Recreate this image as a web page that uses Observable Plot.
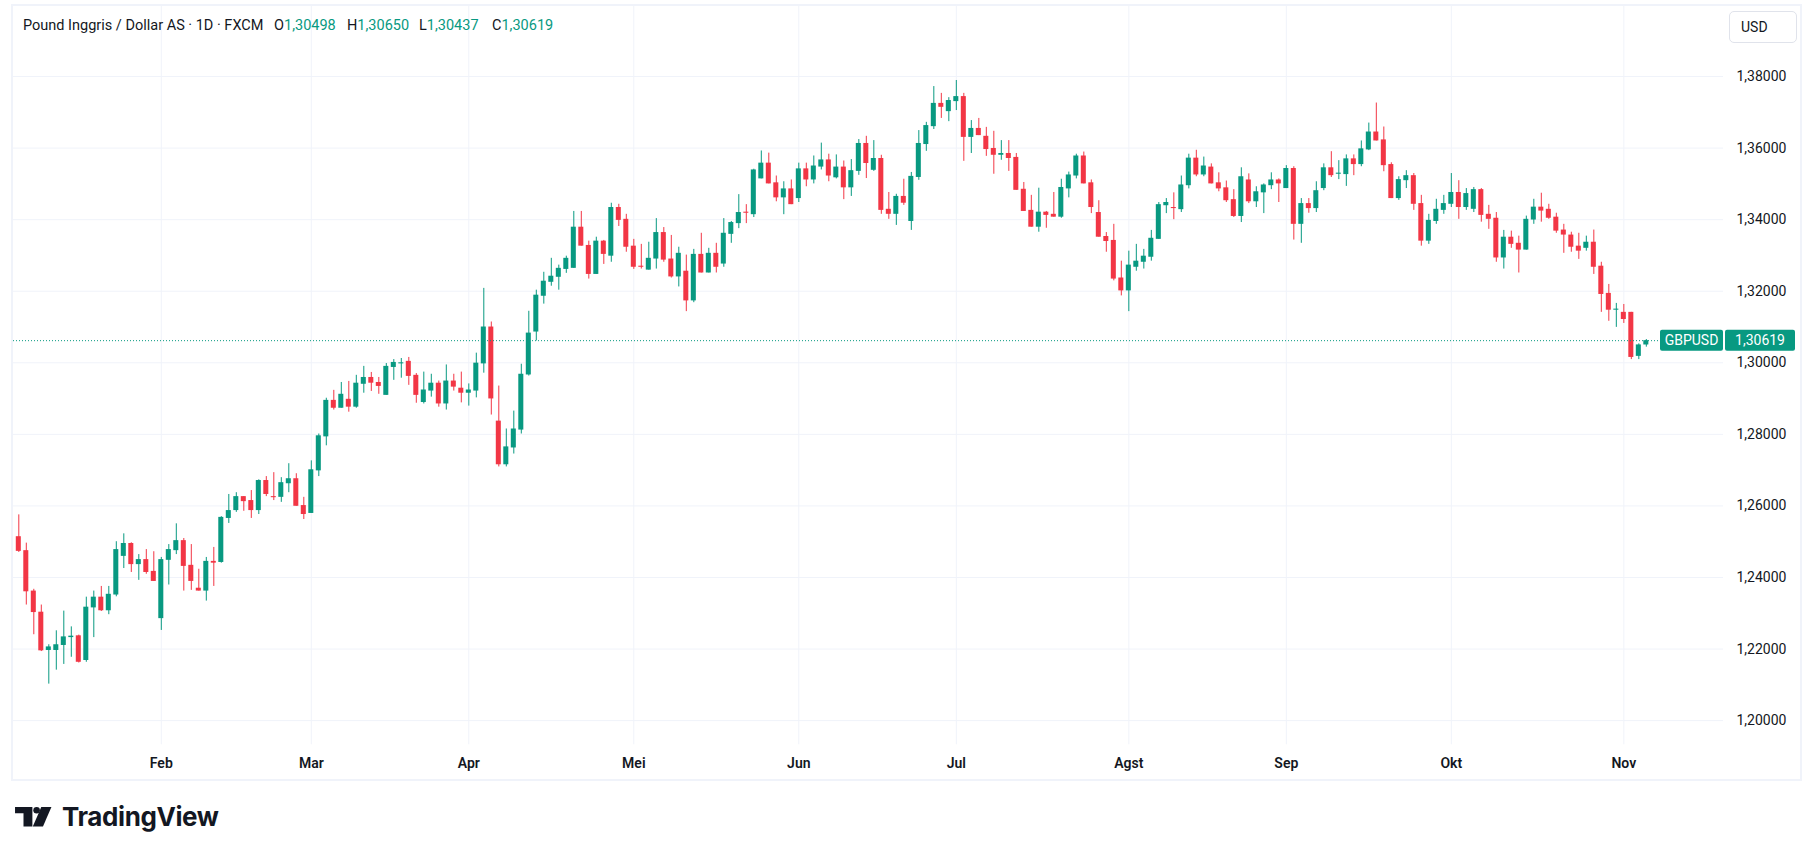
<!DOCTYPE html>
<html>
<head>
<meta charset="utf-8">
<script src="https://cdn.jsdelivr.net/npm/d3@7"></script>
<script src="https://cdn.jsdelivr.net/npm/@observablehq/plot@0.6"></script>
<style>
  html, body { margin: 0; padding: 0; background: #ffffff; }
  body { width: 1813px; height: 854px; position: relative; overflow: hidden; font-family: Roboto, "Noto Sans", sans-serif; color: #131722; }
  #frame { position: absolute; left: 11px; top: 4px; width: 1791px; height: 777px; box-sizing: border-box; border: 2px solid #f0f3fa; }
  #chart { position: absolute; left: 13px; top: 6px; }
  .hdr { position: absolute; top: 16px; font-size: 14.5px; line-height: 20px; white-space: nowrap; color: #131722; }
  .hdr .v { color: #089981; }
  #usd { position: absolute; left: 1729px; top: 11px; width: 68px; height: 32px; box-sizing: border-box; border: 1px solid #e0e3eb; border-radius: 5px; font-size: 14px; line-height: 30px; padding-left: 11px; color: #131722; }
  #logo { position: absolute; left: 15px; top: 804px; }
  #logotext { position: absolute; left: 62px; top: 799px; font-family: Inter, Roboto, sans-serif; font-weight: 700; font-size: 26px; line-height: 36px; letter-spacing: -0.4px; color: #131722; }
</style>
</head>
<body>
<div id="frame"></div>
<div id="chart"></div>
<div class="hdr" style="left:23px">Pound Inggris / Dollar AS · 1D · FXCM</div>
<div class="hdr" id="hO" style="left:274px"></div>
<div class="hdr" id="hH" style="left:347px"></div>
<div class="hdr" id="hL" style="left:419px"></div>
<div class="hdr" id="hC" style="left:492px"></div>
<div id="usd">USD</div>
<svg id="logo" width="39" height="25.4" viewBox="0 0 46 30">
  <path d="M0 3.5 H20.5 V26.5 H10 V11 H0 Z" fill="#131722"/>
  <circle cx="25.5" cy="7.3" r="3.9" fill="#131722"/>
  <path d="M31 3.5 H43 L33 26.5 H21 Z" fill="#131722"/>
</svg>
<div id="logotext">TradingView</div>
<script>
// ---- Data (GBPUSD daily candles, 7 Jan 2025 – 6 Nov 2025) ----
const open = [
1.2514,1.2475,1.2362,1.2303,1.2196,1.2196,1.2210,1.2232,1.2237,1.2168,
1.2315,1.2345,1.2307,1.2351,1.2459,1.2495,1.2436,1.2450,1.2417,1.2285,
1.2448,1.2475,1.2503,1.2434,1.2370,1.2362,1.2445,1.2442,1.2565,1.2587,
1.2626,1.2615,1.2587,1.2671,1.2626,1.2624,1.2662,1.2676,1.2601,1.2579,
1.2698,1.2793,1.2895,1.2873,1.2898,1.2876,1.2940,1.2959,1.2945,1.2909,
1.2987,1.2997,1.3004,1.2965,1.2889,1.2921,1.2943,1.2885,1.2949,1.2929,
1.2915,1.2921,1.2997,1.3100,1.2837,1.2715,1.2762,1.2812,1.2966,1.3086,
1.3186,1.3225,1.3239,1.3261,1.3264,1.3379,1.3328,1.3247,1.3340,1.3298,
1.3434,1.3401,1.3326,1.3270,1.3259,1.3290,1.3364,1.3290,1.3240,1.3256,
1.3173,1.3303,1.3251,1.3306,1.3276,1.3359,1.3389,1.3421,1.3414,1.3514,
1.3558,1.3503,1.3461,1.3486,1.3459,1.3542,1.3511,1.3547,1.3567,1.3517,
1.3547,1.3489,1.3535,1.3613,1.3538,1.3571,1.3429,1.3415,1.3465,1.3395,
1.3518,1.3610,1.3660,1.3725,1.3702,1.3730,1.3744,1.3630,1.3655,1.3633,
1.3599,1.3580,1.3585,1.3574,1.3485,1.3426,1.3379,1.3421,1.3415,1.3407,
1.3486,1.3522,1.3578,1.3503,1.3420,1.3353,1.3342,1.3237,1.3201,1.3267,
1.3281,1.3295,1.3345,1.3439,1.3434,1.3428,1.3495,1.3572,1.3525,1.3547,
1.3503,1.3489,1.3456,1.3409,1.3511,1.3450,1.3475,1.3495,1.3511,1.3487,
1.3543,1.3387,1.3445,1.3431,1.3487,1.3545,1.3527,1.3526,1.3570,1.3554,
1.3595,1.3645,1.3623,1.3554,1.3459,1.3509,1.3523,1.3445,1.3340,1.3395,
1.3426,1.3443,1.3476,1.3434,1.3429,1.3484,1.3415,1.3404,1.3293,1.3351,
1.3334,1.3315,1.3399,1.3435,1.3429,1.3407,1.3371,1.3357,1.3326,1.3320,
1.3337,1.3270,1.3194,1.3147,1.3141,1.3141,1.3018,1.30498];
const high = [
1.2575,1.2496,1.2367,1.2323,1.2212,1.2251,1.2306,1.2262,1.2239,1.2345,
1.2362,1.2375,1.2375,1.2500,1.2522,1.2497,1.2464,1.2478,1.2472,1.2456,
1.2492,1.2550,1.2509,1.2492,1.2423,1.2456,1.2484,1.2570,1.2632,1.2637,
1.2626,1.2643,1.2673,1.2682,1.2693,1.2679,1.2718,1.2690,1.2624,1.2726,
1.2801,1.2901,1.2923,1.2945,1.2948,1.2965,1.2990,1.2973,1.2959,1.2998,
1.3009,1.3012,1.3015,1.2970,1.2974,1.2968,1.2949,1.2994,1.2968,1.2974,
1.2941,1.3027,1.3208,1.3114,1.2935,1.2815,1.2865,1.2996,1.3144,1.3203,
1.3253,1.3292,1.3273,1.3298,1.3423,1.3423,1.3340,1.3351,1.3342,1.3446,
1.3443,1.3415,1.3345,1.3331,1.3337,1.3403,1.3378,1.3356,1.3323,1.3301,
1.3317,1.3362,1.3320,1.3334,1.3403,1.3395,1.3470,1.3442,1.3541,1.3592,
1.3586,1.3522,1.3506,1.3511,1.3558,1.3558,1.3578,1.3614,1.3583,1.3581,
1.3564,1.3568,1.3624,1.3633,1.3621,1.3580,1.3476,1.3471,1.3513,1.3532,
1.3649,1.3672,1.3772,1.3753,1.3741,1.3789,1.3753,1.3677,1.3683,1.3658,
1.3647,1.3621,1.3621,1.3585,1.3504,1.3468,1.3488,1.3423,1.3476,1.3513,
1.3533,1.3583,1.3589,1.3511,1.3453,1.3364,1.3387,1.3284,1.3312,1.3331,
1.3317,1.3370,1.3448,1.3459,1.3475,1.3522,1.3583,1.3594,1.3575,1.3556,
1.3531,1.3508,1.3484,1.3545,1.3528,1.3492,1.3500,1.3531,1.3514,1.3551,
1.3548,1.3459,1.3459,1.3506,1.3556,1.3590,1.3565,1.3581,1.3581,1.3620,
1.3670,1.3726,1.3659,1.3559,1.3520,1.3537,1.3529,1.3468,1.3415,1.3457,
1.3468,1.3529,1.3509,1.3487,1.3490,1.3487,1.3440,1.3420,1.3370,1.3368,
1.3354,1.3410,1.3457,1.3474,1.3443,1.3418,1.3387,1.3365,1.3362,1.3354,
1.3371,1.3281,1.3219,1.3166,1.3163,1.3141,1.3053,1.30650];
const low = [
1.2470,1.2323,1.2240,1.2193,1.2102,1.2141,1.2157,1.2177,1.2161,1.2163,
1.2232,1.2305,1.2296,1.2346,1.2425,1.2414,1.2392,1.2409,1.2389,1.2252,
1.2379,1.2464,1.2362,1.2364,1.2362,1.2334,1.2375,1.2440,1.2551,1.2582,
1.2585,1.2565,1.2576,1.2626,1.2615,1.2610,1.2637,1.2599,1.2562,1.2579,
1.2682,1.2768,1.2868,1.2873,1.2862,1.2873,1.2915,1.2920,1.2912,1.2909,
1.2951,1.2957,1.2937,1.2887,1.2885,1.2904,1.2876,1.2868,1.2921,1.2888,
1.2879,1.2902,1.2971,1.2854,1.2709,1.2709,1.2745,1.2801,1.2963,1.3061,
1.3164,1.3214,1.3203,1.3250,1.3264,1.3326,1.3234,1.3247,1.3275,1.3281,
1.3381,1.3309,1.3261,1.3262,1.3259,1.3262,1.3281,1.3237,1.3212,1.3143,
1.3168,1.3251,1.3251,1.3251,1.3267,1.3334,1.3375,1.3389,1.3406,1.3514,
1.3500,1.3450,1.3414,1.3442,1.3448,1.3492,1.3500,1.3539,1.3506,1.3514,
1.3456,1.3465,1.3524,1.3515,1.3535,1.3415,1.3401,1.3384,1.3440,1.3370,
1.3510,1.3591,1.3652,1.3683,1.3674,1.3705,1.3563,1.3585,1.3635,1.3577,
1.3527,1.3566,1.3535,1.3482,1.3423,1.3379,1.3365,1.3376,1.3407,1.3404,
1.3461,1.3514,1.3500,1.3417,1.3351,1.3309,1.3229,1.3187,1.3143,1.3256,
1.3262,1.3284,1.3345,1.3417,1.3400,1.3420,1.3486,1.3520,1.3520,1.3500,
1.3478,1.3448,1.3406,1.3392,1.3445,1.3434,1.3417,1.3484,1.3448,1.3487,
1.3343,1.3334,1.3418,1.3420,1.3481,1.3518,1.3512,1.3493,1.3523,1.3548,
1.3593,1.3620,1.3534,1.3459,1.3454,1.3487,1.3426,1.3326,1.3331,1.3387,
1.3415,1.3434,1.3401,1.3426,1.3420,1.3393,1.3373,1.3281,1.3262,1.3320,
1.3251,1.3315,1.3387,1.3393,1.3401,1.3362,1.3306,1.3309,1.3289,1.3312,
1.3247,1.3141,1.3116,1.3099,1.3110,1.3009,1.3009,1.30437];
const close = [
1.2473,1.2360,1.2302,1.2195,1.2206,1.2212,1.2234,1.2236,1.2163,1.2317,
1.2345,1.2307,1.2353,1.2478,1.2495,1.2436,1.2450,1.2414,1.2389,1.2450,
1.2478,1.2503,1.2431,1.2389,1.2362,1.2445,1.2440,1.2568,1.2587,1.2626,
1.2612,1.2587,1.2671,1.2632,1.2624,1.2665,1.2676,1.2599,1.2576,1.2701,
1.2796,1.2895,1.2873,1.2912,1.2876,1.2943,1.2959,1.2943,1.2934,1.2990,
1.3001,1.3000,1.2962,1.2909,1.2924,1.2943,1.2885,1.2949,1.2932,1.2915,
1.2924,1.2999,1.3100,1.2899,1.2715,1.2765,1.2815,1.2968,1.3083,1.3189,
1.3228,1.3242,1.3264,1.3292,1.3379,1.3326,1.3247,1.3340,1.3303,1.3434,
1.3398,1.3323,1.3267,1.3267,1.3292,1.3364,1.3287,1.3240,1.3306,1.3173,
1.3303,1.3251,1.3306,1.3267,1.3362,1.3392,1.3420,1.3418,1.3539,1.3558,
1.3500,1.3461,1.3486,1.3442,1.3542,1.3511,1.3550,1.3567,1.3522,1.3547,
1.3489,1.3537,1.3613,1.3557,1.3571,1.3426,1.3415,1.3465,1.3446,1.3521,
1.3613,1.3663,1.3725,1.3714,1.3733,1.3744,1.3630,1.3655,1.3635,1.3596,
1.3580,1.3585,1.3571,1.3482,1.3423,1.3379,1.3421,1.3412,1.3407,1.3490,
1.3525,1.3578,1.3500,1.3434,1.3351,1.3339,1.3234,1.3201,1.3273,1.3284,
1.3298,1.3348,1.3442,1.3448,1.3432,1.3497,1.3572,1.3525,1.3550,1.3500,
1.3486,1.3453,1.3409,1.3520,1.3450,1.3478,1.3497,1.3511,1.3500,1.3543,
1.3387,1.3445,1.3431,1.3481,1.3545,1.3523,1.3529,1.3570,1.3554,1.3598,
1.3645,1.3620,1.3551,1.3459,1.3512,1.3523,1.3443,1.3340,1.3398,1.3429,
1.3445,1.3476,1.3434,1.3473,1.3484,1.3412,1.3401,1.3293,1.3351,1.3331,
1.3315,1.3401,1.3435,1.3424,1.3404,1.3368,1.3357,1.3323,1.3312,1.3337,
1.3267,1.3191,1.3147,1.3150,1.3121,1.3015,1.3050,1.30619];

// Axis ticks: bar index of first trading day of each month, and labels
const monthTicks = [19, 39, 60, 82, 104, 125, 148, 169, 191, 214];
const monthLabels = ["Feb", "Mar", "Apr", "Mei", "Jun", "Jul", "Agst", "Sep", "Okt", "Nov"];
const priceTicks = [1.20, 1.22, 1.24, 1.26, 1.28, 1.30, 1.32, 1.34, 1.36, 1.38];
const symbol = "GBPUSD";

// ---- Styling ----
const UP = "#089981", DOWN = "#F23645", GRID = "#f0f3fa";
const fmt = v => v.toFixed(5).replace(".", ",");

const rows = open.map((o, i) => ({i, o, h: high[i], l: low[i], c: close[i]}));
const colorOf = d => (d.c >= d.o ? UP : DOWN);
const minBody = 0.0003;
const last = rows[rows.length - 1];

// header
document.getElementById("hO").innerHTML = 'O<span class="v">' + fmt(last.o) + '</span>';
document.getElementById("hH").innerHTML = 'H<span class="v">' + fmt(last.h) + '</span>';
document.getElementById("hL").innerHTML = 'L<span class="v">' + fmt(last.l) + '</span>';
document.getElementById("hC").innerHTML = 'C<span class="v">' + fmt(last.c) + '</span>';

const chart = Plot.plot({
  width: 1787,
  height: 773,
  marginLeft: 0,
  marginRight: 77,
  marginTop: 0,
  marginBottom: 34.7,
  x: {domain: [-0.7067, 227.29], label: null},
  y: {domain: [1.19324, 1.39958], label: null},
  style: {fontFamily: "Roboto, 'Noto Sans', sans-serif", fontSize: "14px", color: "#131722", background: "transparent", overflow: "visible"},
  marks: [
    Plot.gridY(priceTicks, {stroke: GRID, strokeOpacity: 1}),
    Plot.gridX(monthTicks, {stroke: GRID, strokeOpacity: 1}),
    Plot.ruleX(rows, {x: "i", y1: "l", y2: "h", stroke: colorOf, strokeWidth: 1}),
    Plot.rect(rows, {
      x1: d => d.i - 0.335,
      x2: d => d.i + 0.335,
      y1: "o",
      y2: d => Math.abs(d.c - d.o) < minBody ? d.o + (d.c >= d.o ? minBody : -minBody) : d.c,
      fill: colorOf
    }),
    Plot.ruleY([last.c], {stroke: UP, strokeWidth: 1, strokeDasharray: "1,2"}),
    Plot.axisY(priceTicks, {anchor: "right", tickSize: 0, tickPadding: 13, tickFormat: fmt, label: null, fontSize: 14}),
    Plot.axisX(monthTicks, {anchor: "bottom", tickSize: 0, tickPadding: 13, label: null, fontSize: 14, fontWeight: 600,
      tickFormat: d => monthLabels[monthTicks.indexOf(d)]})
  ]
});
document.getElementById("chart").appendChild(chart);

// last-price labels on the right
const yLast = chart.scale("y").apply(last.c);
const svg = d3.select(chart);
const g = svg.append("g").attr("font-family", "Roboto, 'Noto Sans', sans-serif").attr("font-size", 14);
g.append("rect").attr("x", 1647).attr("y", yLast - 10.5).attr("width", 63).attr("height", 21).attr("rx", 2).attr("fill", UP);
g.append("text").attr("x", 1678.5).attr("y", yLast).attr("dy", "0.35em").attr("text-anchor", "middle").attr("fill", "#fff").text(symbol);
g.append("rect").attr("x", 1712).attr("y", yLast - 10.5).attr("width", 70).attr("height", 21).attr("rx", 2).attr("fill", UP);
g.append("text").attr("x", 1747).attr("y", yLast).attr("dy", "0.35em").attr("text-anchor", "middle").attr("fill", "#fff").text(fmt(last.c));
</script>
</body>
</html>
